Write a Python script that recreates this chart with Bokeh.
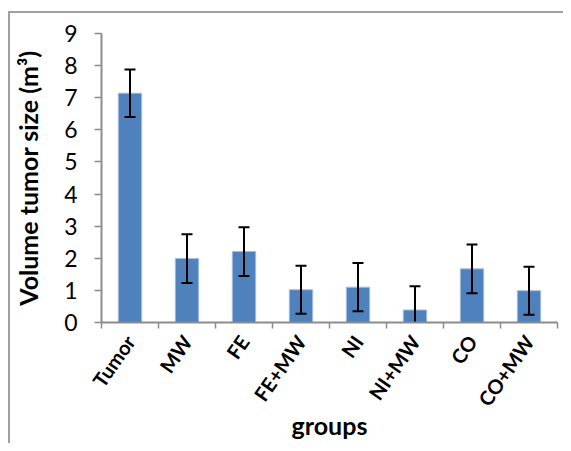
import math
from bokeh.plotting import figure
from bokeh.models import ColumnDataSource, FixedTicker, Range1d
from bokeh.embed import file_html
from bokeh.resources import INLINE

groups = ["Tumor", "MW", "FE", "FE+MW", "NI", "NI+MW", "CO", "CO+MW"]
volumes = [7.14, 1.99, 2.21, 1.02, 1.10, 0.39, 1.67, 0.99]
errors = [0.74, 0.76, 0.76, 0.75, 0.75, 0.74, 0.76, 0.75]
y_ticks = [0, 1, 2, 3, 4, 5, 6, 7, 8, 9]

xs = [i + 0.5 for i in range(len(groups))]
src = ColumnDataSource(dict(
    x=xs, v=volumes,
    up=[v + e for v, e in zip(volumes, errors)],
    lo=[v - e for v, e in zip(volumes, errors)],
))

frame_line = "#a0a0a0"
p = figure(width=563, height=443,
           x_range=Range1d(0, len(groups)), y_range=Range1d(0, 9),
           output_backend="svg", toolbar_location=None,
           min_border_left=101, min_border_right=6,
           min_border_top=33, min_border_bottom=121,
           border_fill_color=None, background_fill_color="white",
           styles={"background": (
               f"linear-gradient({frame_line},{frame_line}) 8px 11px / 2px calc(100% - 11px) no-repeat, "
               f"linear-gradient({frame_line},{frame_line}) 8px 11px / calc(100% - 8px) 2px no-repeat, #ffffff")})

p.vbar(x="x", top="v", width=0.41, source=src,
       fill_color="#4f81bd", line_color="#a3bde0", line_width=1)
p.segment(x0="x", y0="lo", x1="x", y1="up", source=src, line_color="black", line_width=2)
p.scatter(x="x", y="up", source=src, marker="dash", size=11, line_color="black", line_width=2)
p.scatter(x="x", y="lo", source=src, marker="dash", size=11, line_color="black", line_width=2)

p.grid.visible = False
p.outline_line_color = None

axis_color = "#8c8c8c"
for ax in (p.xaxis[0], p.yaxis[0]):
    ax.axis_line_color = axis_color
    ax.axis_line_width = 2
    ax.major_tick_line_color = axis_color
    ax.minor_tick_line_color = axis_color
    ax.major_tick_line_width = 1.5
    ax.minor_tick_line_width = 1.5
    ax.axis_label_text_font = "Lato"
    ax.axis_label_text_font_style = "bold"
    ax.axis_label_text_font_size = "25px"
    ax.axis_label_text_color = "black"
    ax.major_label_text_color = "black"
    ax.major_label_text_font = "Lato"

yax = p.yaxis[0]
yax.ticker = FixedTicker(ticks=y_ticks)
yax.major_tick_in = 0
yax.major_tick_out = 7
yax.minor_tick_in = 0
yax.minor_tick_out = 0
yax.major_label_text_font_size = "23px"
yax.major_label_standoff = 17
yax.axis_label = "Volume tumor size (m³)"
yax.axis_label_standoff = 18

xax = p.xaxis[0]
xax.ticker = FixedTicker(ticks=xs, minor_ticks=list(range(len(groups) + 1)))
xax.major_label_overrides = {x: g for x, g in zip(xs, groups)}
xax.major_tick_in = 0
xax.major_tick_out = 0
xax.minor_tick_in = 0
xax.minor_tick_out = 6
xax.major_label_orientation = 0.96
xax.major_label_text_font_size = "20px"
xax.major_label_text_font_style = "bold"
xax.major_label_standoff = 9
xax.axis_label = "groups"
xax.axis_label_standoff = -10

open("out.html", "w").write(file_html(p, INLINE))
